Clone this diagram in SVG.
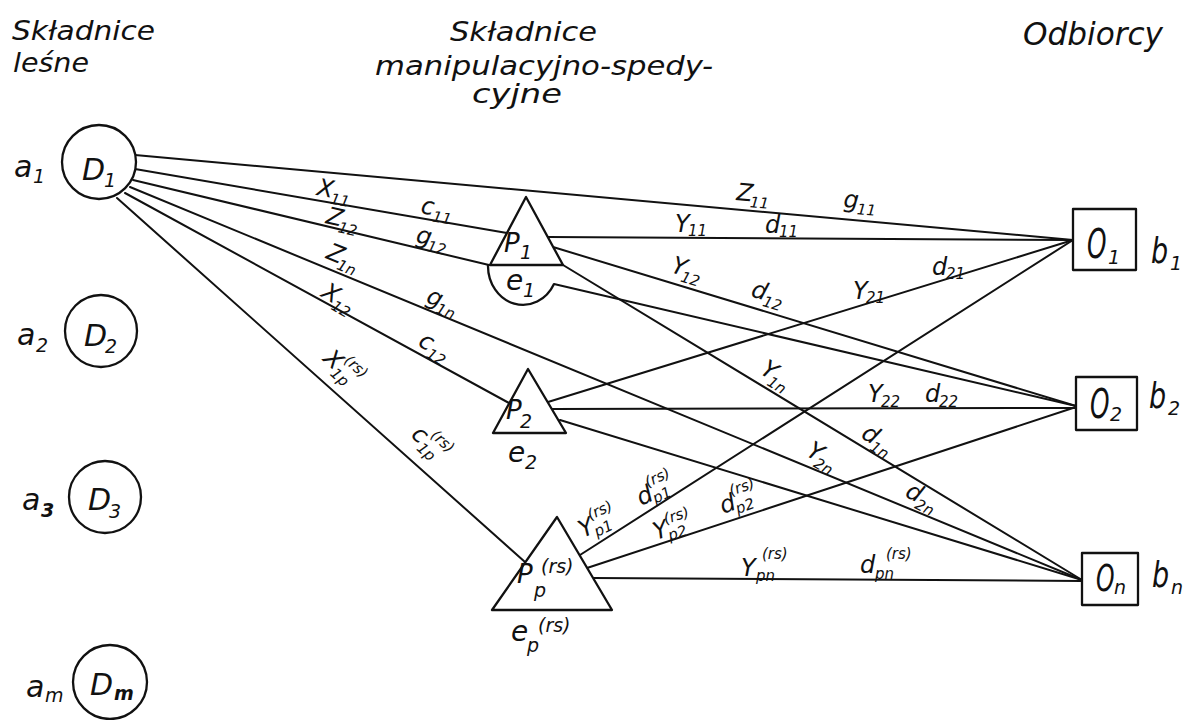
<svg xmlns="http://www.w3.org/2000/svg" width="1189" height="720" viewBox="0 0 1189 720">
<style>
.ln{stroke:#111;stroke-width:2;fill:none;stroke-linecap:round}
.nd{stroke:#111;stroke-width:2.3;fill:#fff;stroke-linejoin:round}
.arc{stroke:#111;stroke-width:2.3;fill:none}
text{font-family:"DejaVu Sans","Liberation Sans",sans-serif;font-style:italic;fill:#111}
.h{font-size:27px}
.l{font-size:24px}
.s{font-size:15px}
.n{font-size:30px}
.ns{font-size:19px}
.o{font-size:40px}
</style>
<rect width="1189" height="720" fill="#fff"/>

<g id="headers">
<text class="h" x="12" y="40" textLength="143" lengthAdjust="spacingAndGlyphs">Składnice</text>
<text class="h" x="13" y="72" textLength="76" lengthAdjust="spacingAndGlyphs">leśne</text>
<text class="h" x="450" y="41" textLength="147" lengthAdjust="spacingAndGlyphs">Składnice</text>
<text class="h" x="375" y="75" textLength="338" lengthAdjust="spacingAndGlyphs">manipulacyjno-spedy-</text>
<text class="h" x="472" y="103" textLength="90" lengthAdjust="spacingAndGlyphs">cyjne</text>
<text class="h" x="1023" y="45" textLength="140" lengthAdjust="spacingAndGlyphs" style="font-size:32px">Odbiorcy</text>
</g>

<g id="connectors">
<line class="ln" x1="135" y1="155" x2="1073" y2="240"/>
<line class="ln" x1="135" y1="169" x2="507" y2="233"/>
<line class="ln" x1="133" y1="180" x2="489" y2="265"/>
<line class="ln" x1="130" y1="187" x2="1082" y2="580"/>
<line class="ln" x1="125" y1="193" x2="509" y2="403"/>
<line class="ln" x1="117" y1="198" x2="525" y2="562"/>
<line class="ln" x1="548" y1="237" x2="1073" y2="240"/>
<line class="ln" x1="553" y1="247" x2="1076" y2="406"/>
<line class="ln" x1="563" y1="265" x2="1082" y2="580"/>
<line class="ln" x1="554" y1="284" x2="1076" y2="406"/>
<line class="ln" x1="548" y1="402" x2="1073" y2="240"/>
<line class="ln" x1="552" y1="409" x2="1076" y2="408"/>
<line class="ln" x1="560" y1="420" x2="1082" y2="580"/>
<line class="ln" x1="580" y1="555" x2="1073" y2="240"/>
<line class="ln" x1="587" y1="568" x2="1076" y2="407"/>
<line class="ln" x1="593" y1="578" x2="1082" y2="581"/>
</g>

<g id="connector-labels">
<g transform="translate(316,195) rotate(10)"><text class="l">X</text><text class="s" x="15" y="6">11</text></g>
<g transform="translate(420,213) rotate(10)"><text class="l">c</text><text class="s" x="13" y="6">11</text></g>
<g transform="translate(325,223) rotate(13)"><text class="l">Z</text><text class="s" x="14" y="6">12</text></g>
<g transform="translate(415,242) rotate(13)"><text class="l">g</text><text class="s" x="13" y="6">12</text></g>
<g transform="translate(325,258) rotate(22)"><text class="l">Z</text><text class="s" x="14" y="6">1n</text></g>
<g transform="translate(425,302) rotate(22)"><text class="l">g</text><text class="s" x="13" y="6">1n</text></g>
<g transform="translate(320,296) rotate(30)"><text class="l">X</text><text class="s" x="15" y="6">12</text></g>
<g transform="translate(417,345) rotate(30)"><text class="l">c</text><text class="s" x="13" y="6">12</text></g>
<g transform="translate(322,360) rotate(42)"><text class="l">X</text><text class="s" x="15" y="6">1p</text><text class="s" x="17" y="-13">(rs)</text></g>
<g transform="translate(410,436) rotate(42)"><text class="l">c</text><text class="s" x="13" y="6">1p</text><text class="s" x="15" y="-13">(rs)</text></g>
<g transform="translate(736,200) rotate(5)"><text class="l">Z</text><text class="s" x="14" y="6">11</text></g>
<g transform="translate(843,207) rotate(5)"><text class="l">g</text><text class="s" x="14" y="6">11</text></g>
<g transform="translate(675,232)"><text class="l">Y</text><text class="s" x="13" y="4">11</text></g>
<g transform="translate(765,233)"><text class="l">d</text><text class="s" x="14" y="4">11</text></g>
<g transform="translate(670,272) rotate(17)"><text class="l">Y</text><text class="s" x="12" y="6">12</text></g>
<g transform="translate(750,296) rotate(17)"><text class="l">d</text><text class="s" x="14" y="6">12</text></g>
<g transform="translate(853,299)"><text class="l">Y</text><text class="s" x="13" y="4">21</text></g>
<g transform="translate(932,275)"><text class="l">d</text><text class="s" x="14" y="4">21</text></g>
<g transform="translate(759,373) rotate(32)"><text class="l">Y</text><text class="s" x="12" y="6">1n</text></g>
<g transform="translate(860,437) rotate(32)"><text class="l">d</text><text class="s" x="14" y="6">1n</text></g>
<g transform="translate(868,402)"><text class="l">Y</text><text class="s" x="13" y="5">22</text></g>
<g transform="translate(925,402)"><text class="l">d</text><text class="s" x="14" y="5">22</text></g>
<g transform="translate(805,455) rotate(30)"><text class="l">Y</text><text class="s" x="12" y="6">2n</text></g>
<g transform="translate(904,496) rotate(27)"><text class="l">d</text><text class="s" x="14" y="6">2n</text></g>
<g transform="translate(583,538) rotate(-25)"><text class="l">Y</text><text class="s" x="13" y="5">p1</text><text class="s" x="14" y="-13">(rs)</text></g>
<g transform="translate(641,506) rotate(-25)"><text class="l">d</text><text class="s" x="14" y="4">p1</text><text class="s" x="14" y="-14">(rs)</text></g>
<g transform="translate(656,540) rotate(-18)"><text class="l">Y</text><text class="s" x="13" y="5">p2</text><text class="s" x="14" y="-12">(rs)</text></g>
<g transform="translate(723,514) rotate(-20)"><text class="l">d</text><text class="s" x="14" y="5">p2</text><text class="s" x="14" y="-14">(rs)</text></g>
<g transform="translate(741,576)"><text class="l">Y</text><text class="s" x="15" y="5">pn</text><text class="s" x="21" y="-17">(rs)</text></g>
<g transform="translate(860,573)"><text class="l">d</text><text class="s" x="15" y="6">pn</text><text class="s" x="26" y="-14">(rs)</text></g>
</g>

<g id="node-D1">
<circle class="nd" cx="99" cy="162" r="37"/>
<text class="n" x="82" y="180">D</text><text class="ns" x="104" y="187">1</text>
<text class="n" x="14" y="177">a</text><text class="ns" x="33" y="183">1</text>
</g>
<g id="node-D2">
<circle class="nd" cx="101" cy="331" r="36"/>
<text class="n" x="84" y="346">D</text><text class="ns" x="105" y="353">2</text>
<text class="n" x="17" y="345">a</text><text class="ns" x="36" y="352">2</text>
</g>
<g id="node-D3">
<circle class="nd" cx="105" cy="497" r="36"/>
<text class="n" x="88" y="510">D</text><text class="ns" x="109" y="518">3</text>
<text class="n" x="22" y="510">a</text><text class="ns" x="41" y="517" style="font-weight:bold">3</text>
</g>
<g id="node-Dm">
<circle class="nd" cx="110" cy="682" r="37"/>
<text class="n" x="90" y="695">D</text><text class="ns" x="114" y="700" style="font-weight:bold">m</text>
<text class="n" x="26" y="697">a</text><text class="ns" x="45" y="702">m</text>
</g>

<g id="node-P1">
<polygon class="nd" points="526,197 490,265 563,265"/>
<path class="arc" d="M488,265 A35,39 0 0 0 554,284"/>
<text class="l" x="504" y="252" style="font-size:26px">P</text><text class="ns" x="520" y="259">1</text>
<text class="l" x="506" y="290" style="font-size:28px">e</text><text class="ns" x="523" y="297">1</text>
</g>
<g id="node-P2">
<polygon class="nd" points="528,369 493,433 566,433"/>
<text class="l" x="506" y="419" style="font-size:26px">P</text><text class="ns" x="520" y="428">2</text>
<text class="l" x="508" y="462" style="font-size:28px">e</text><text class="ns" x="525" y="469">2</text>
</g>
<g id="node-Pp">
<polygon class="nd" points="557,517 492,610 612,610"/>
<text class="l" x="517" y="583" style="font-size:26px">P</text><text class="ns" x="534" y="597">p</text><text class="ns" x="541" y="573">(rs)</text>
<text class="l" x="511" y="641" style="font-size:28px">e</text><text class="ns" x="527" y="652">p</text><text class="ns" x="538" y="632">(rs)</text>
</g>

<g id="node-O1">
<rect class="nd" x="1073" y="209" width="63" height="61"/>
<text class="o" transform="translate(1087,258) scale(0.62,1)">O</text><text class="ns" x="1108" y="264">1</text>
<text class="o" transform="translate(1151,263) scale(0.75,1)" style="font-size:36px">b</text><text class="ns" x="1170" y="270">1</text>
</g>
<g id="node-O2">
<rect class="nd" x="1076" y="377" width="61" height="53"/>
<text class="o" transform="translate(1090,418) scale(0.62,1)">O</text><text class="ns" x="1110" y="421">2</text>
<text class="o" transform="translate(1149,408) scale(0.75,1)" style="font-size:36px">b</text><text class="ns" x="1168" y="415">2</text>
</g>
<g id="node-On">
<rect class="nd" x="1082" y="553" width="56" height="52"/>
<text class="o" transform="translate(1096,591) scale(0.62,1)" style="font-size:38px">O</text><text class="ns" x="1114" y="594">n</text>
<text class="o" transform="translate(1152,587) scale(0.75,1)" style="font-size:36px">b</text><text class="ns" x="1171" y="594">n</text>
</g>
</svg>
